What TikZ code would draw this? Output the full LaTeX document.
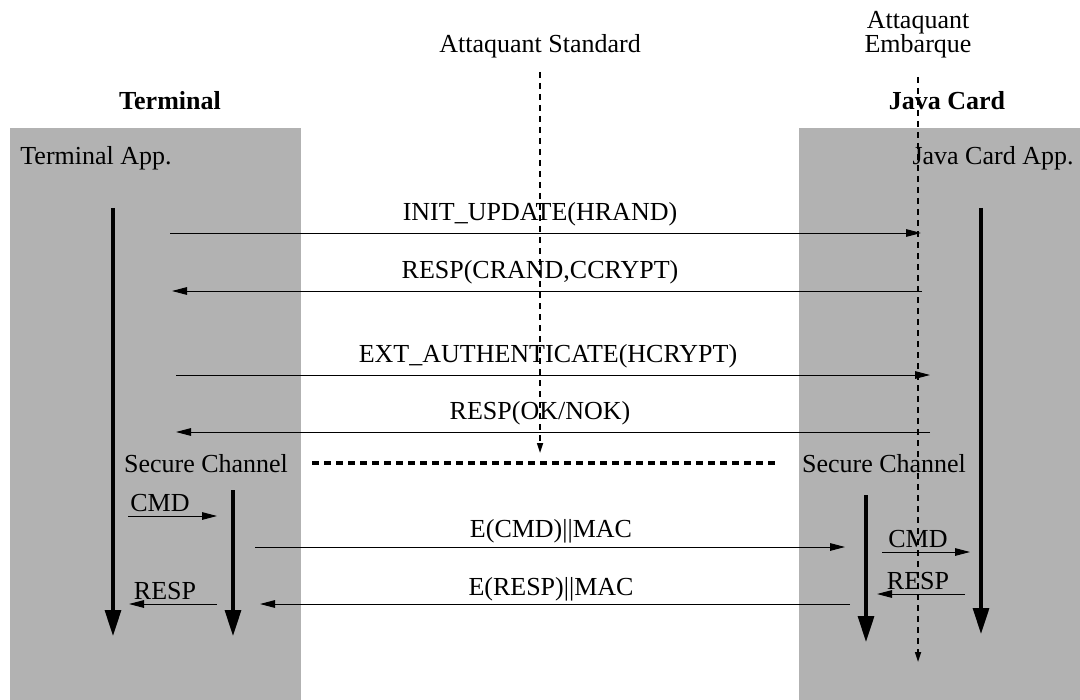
\documentclass[tikz,border=0pt]{standalone}
\usepackage{fontspec}
\setmainfont{Liberation Serif}
\usetikzlibrary{arrows.meta,calc,positioning}
\definecolor{zone}{gray}{0.70}
\tikzset{
	lbl/.style={inner sep=1pt,font=\fontsize{13}{15}\selectfont},
	ttl/.style={inner sep=1pt,font=\fontsize{13}{15}\selectfont\bfseries},
	msg/.style={line width=0.5pt,-{Triangle[length=7.5pt,width=3.8pt]}},
	life/.style={line width=1.6pt,-{Triangle[length=13pt,width=8pt]}},
	spyline/.style={line width=0.8pt,dash pattern=on 3pt off 2.5pt,-{Triangle[length=5pt,width=3pt]}},
	chan/.style={line width=1.6pt,dash pattern=on 3.5pt off 2.5pt},
}
\begin{document}
\begin{tikzpicture}[x=0.5pt,y=-0.5pt]
	\useasboundingbox (0,0) rectangle (1080,700);
	% zones
	\fill[zone] (10,128) rectangle (301,700);
	\fill[zone] (799,128) rectangle (1080,700);
	
	\node (tTerm) at (170,101) [ttl] {Terminal};
	\node (tCard) at (947,101) [ttl] {Java Card};
	\node (tStd) at (540,46) [lbl] {Attaquant Standard};
	\node (tEmb) at (918,35) [lbl,align=center] {Attaquant\\[-3pt]Embarque};
	\node (tTermApp) at (18,158) [lbl,anchor=west] {Terminal App.};
	\node (tCardApp) at (993,158) [lbl] {Java Card App.};
	\node (tChanL) at (206,464) [lbl] {Secure Channel};
	\node (tChanR) at (884,464) [lbl] {Secure Channel};
	
	% attaquants
	\coordinate (sTop) at (540,72);
	\coordinate (sBot) at (540,453);
	\coordinate (eTop) at (918,77);
	\coordinate (eBot) at (918,662);
	\draw[spyline] (sTop) -- (sBot);
	\draw[spyline] (eTop) -- (eBot);
	
	% lifelines
	\coordinate (tA) at (113,208);
	\coordinate (tB) at (113,636);
	\coordinate (cA) at (981,208);
	\coordinate (cB) at (981,634);
	\coordinate (tsA) at (233,490);
	\coordinate (tsB) at (233,636);
	\coordinate (csA) at (866,495);
	\coordinate (csB) at (866,642);
	\draw[life] (tA) -- (tB);
	\draw[life] (cA) -- (cB);
	\draw[life] (tsA) -- (tsB);
	\draw[life] (csA) -- (csB);
	
	% authentication
	\coordinate (m1a) at (170,233);
	\coordinate (m1b) at (921,233);
	\coordinate (m2a) at (922,291);
	\coordinate (m2b) at (172,291);
	\coordinate (m3a) at (176,375);
	\coordinate (m3b) at (930,375);
	\coordinate (m4a) at (930,432);
	\coordinate (m4b) at (176,432);
	\draw[msg] (m1a) -- (m1b);
	\draw[msg] (m2a) -- (m2b);
	\draw[msg] (m3a) -- (m3b);
	\draw[msg] (m4a) -- (m4b);
	\node (lInit) at (540,214) [lbl] {INIT\_UPDATE(HRAND)};
	\node (lResp1) at (540,272) [lbl] {RESP(CRAND,CCRYPT)};
	\node (lExt) at (548,356) [lbl] {EXT\_AUTHENTICATE(HCRYPT)};
	\node (lResp2) at (540,413) [lbl] {RESP(OK/NOK)};
	
	% secure channel
	\coordinate (chA) at (312,463);
	\coordinate (chB) at (778,463);
	\draw[chan] (chA) -- (chB);
	
	\coordinate (cmdLa) at (128,516);
	\coordinate (cmdLb) at (217,516);
	\coordinate (rspLa) at (217,604);
	\coordinate (rspLb) at (129,604);
	\coordinate (ecA) at (255,547);
	\coordinate (ecB) at (845,547);
	\coordinate (erA) at (850,604);
	\coordinate (erB) at (260,604);
	\coordinate (cmdRa) at (882,552);
	\coordinate (cmdRb) at (970,552);
	\coordinate (rspRa) at (965,594);
	\coordinate (rspRb) at (877,594);
	\draw[msg] (cmdLa) -- (cmdLb);
	\draw[msg] (rspLa) -- (rspLb);
	\draw[msg] (ecA) -- (ecB);
	\draw[msg] (erA) -- (erB);
	\draw[msg] (cmdRa) -- (cmdRb);
	\draw[msg] (rspRa) -- (rspRb);
	\node (lCmdL) at (160,503) [lbl] {CMD};
	\node (lRspL) at (165,591) [lbl] {RESP};
	\node (lEC) at (551,531) [lbl] {E(CMD)||MAC};
	\node (lER) at (551,589) [lbl] {E(RESP)||MAC};
	\node (lCmdR) at (918,539) [lbl] {CMD};
	\node (lRspR) at (918,581) [lbl] {RESP};
\end{tikzpicture}
\end{document}
